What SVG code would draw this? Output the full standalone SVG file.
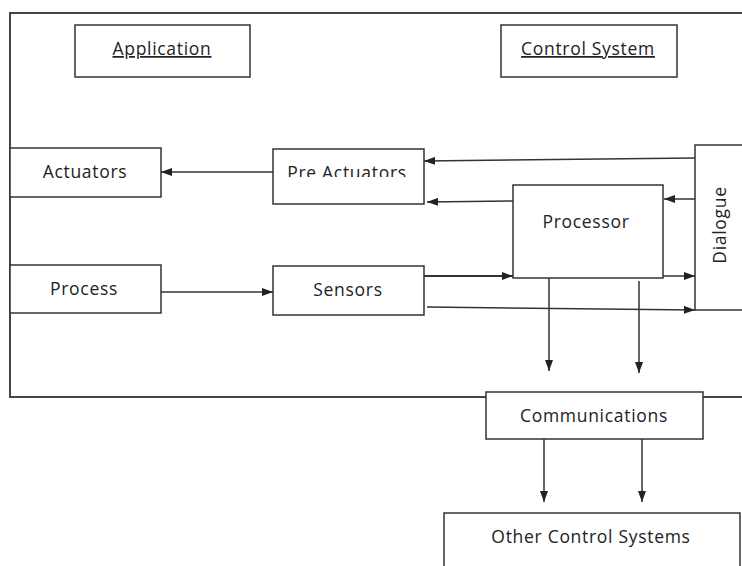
<svg xmlns="http://www.w3.org/2000/svg" width="742" height="566" viewBox="0 0 742 566">
  <style>
    .box { fill: #ffffff; stroke: #333333; stroke-width: 1.5; }
    .frame { fill: none; stroke: #444444; stroke-width: 2; }
    .lbl { font-family: "Open Sans", "Noto Sans", "DejaVu Sans", sans-serif; font-size: 17.5px; letter-spacing: 0.7px; fill: #222222; text-anchor: middle; }
    .ul { text-decoration: underline; }
    .wire { fill: none; stroke: #333333; stroke-width: 1.5; marker-end: url(#arrow); }
  </style>
  <defs>
    <marker id="arrow" markerWidth="11" markerHeight="8" refX="11" refY="4" orient="auto" markerUnits="userSpaceOnUse">
      <path d="M0,0 L11,4 L0,8 z" fill="#222222"/>
    </marker>
    <clipPath id="preClip">
      <rect x="274" y="150" width="149" height="27"/>
    </clipPath>
  </defs>

  <rect width="742" height="566" fill="#ffffff"/>

  <!-- outer frame: application / control system area -->
  <rect id="frame" class="frame" x="10" y="13" width="800" height="384"/>

  <g id="connectors">
    <line class="wire" x1="273" y1="172" x2="161" y2="172"/>
    <line class="wire" x1="161" y1="292" x2="273" y2="292"/>
    <line class="wire" x1="695" y1="158" x2="424" y2="161"/>
    <line class="wire" x1="513" y1="201" x2="427" y2="202"/>
    <line class="wire" x1="695" y1="199" x2="664" y2="199"/>
    <line class="wire" x1="424" y1="276" x2="513" y2="276" style="stroke-width:2"/>
    <line class="wire" x1="663" y1="276" x2="695" y2="276"/>
    <line class="wire" x1="427" y1="307" x2="695" y2="310"/>
    <line class="wire" x1="549" y1="278" x2="549" y2="371"/>
    <line class="wire" x1="639" y1="281" x2="639" y2="373"/>
    <line class="wire" x1="544" y1="436" x2="544" y2="502"/>
    <line class="wire" x1="642" y1="436" x2="642" y2="502"/>
  </g>

  <g id="application">
    <rect class="box" x="75" y="25" width="175" height="52"/>
    <text class="lbl ul" x="162" y="55">Application</text>
  </g>

  <g id="control-system">
    <rect class="box" x="501" y="25" width="176" height="52"/>
    <text class="lbl ul" x="588" y="55">Control System</text>
  </g>

  <g id="actuators">
    <rect class="box" x="10" y="148" width="151" height="49"/>
    <text class="lbl" x="85" y="178">Actuators</text>
  </g>

  <g id="pre-actuators">
    <rect class="box" x="273" y="149" width="151" height="55"/>
    <text class="lbl" x="347" y="179" clip-path="url(#preClip)">Pre Actuators</text>
  </g>

  <g id="process">
    <rect class="box" x="10" y="265" width="151" height="48"/>
    <text class="lbl" x="84" y="295">Process</text>
  </g>

  <g id="sensors">
    <rect class="box" x="273" y="266" width="151" height="49"/>
    <text class="lbl" x="348" y="296">Sensors</text>
  </g>

  <g id="processor">
    <rect class="box" x="513" y="185" width="150" height="93"/>
    <text class="lbl" x="586" y="228">Processor</text>
  </g>

  <g id="dialogue">
    <rect class="box" x="695" y="145" width="60" height="165"/>
    <text class="lbl" x="0" y="0" transform="translate(726,225) rotate(-90)">Dialogue</text>
  </g>

  <g id="communications">
    <rect class="box" x="486" y="392" width="217" height="47"/>
    <text class="lbl" x="594" y="422">Communications</text>
  </g>

  <g id="other-control-systems">
    <rect class="box" x="444" y="513" width="296" height="70"/>
    <text class="lbl" x="591" y="543">Other Control Systems</text>
  </g>
</svg>
